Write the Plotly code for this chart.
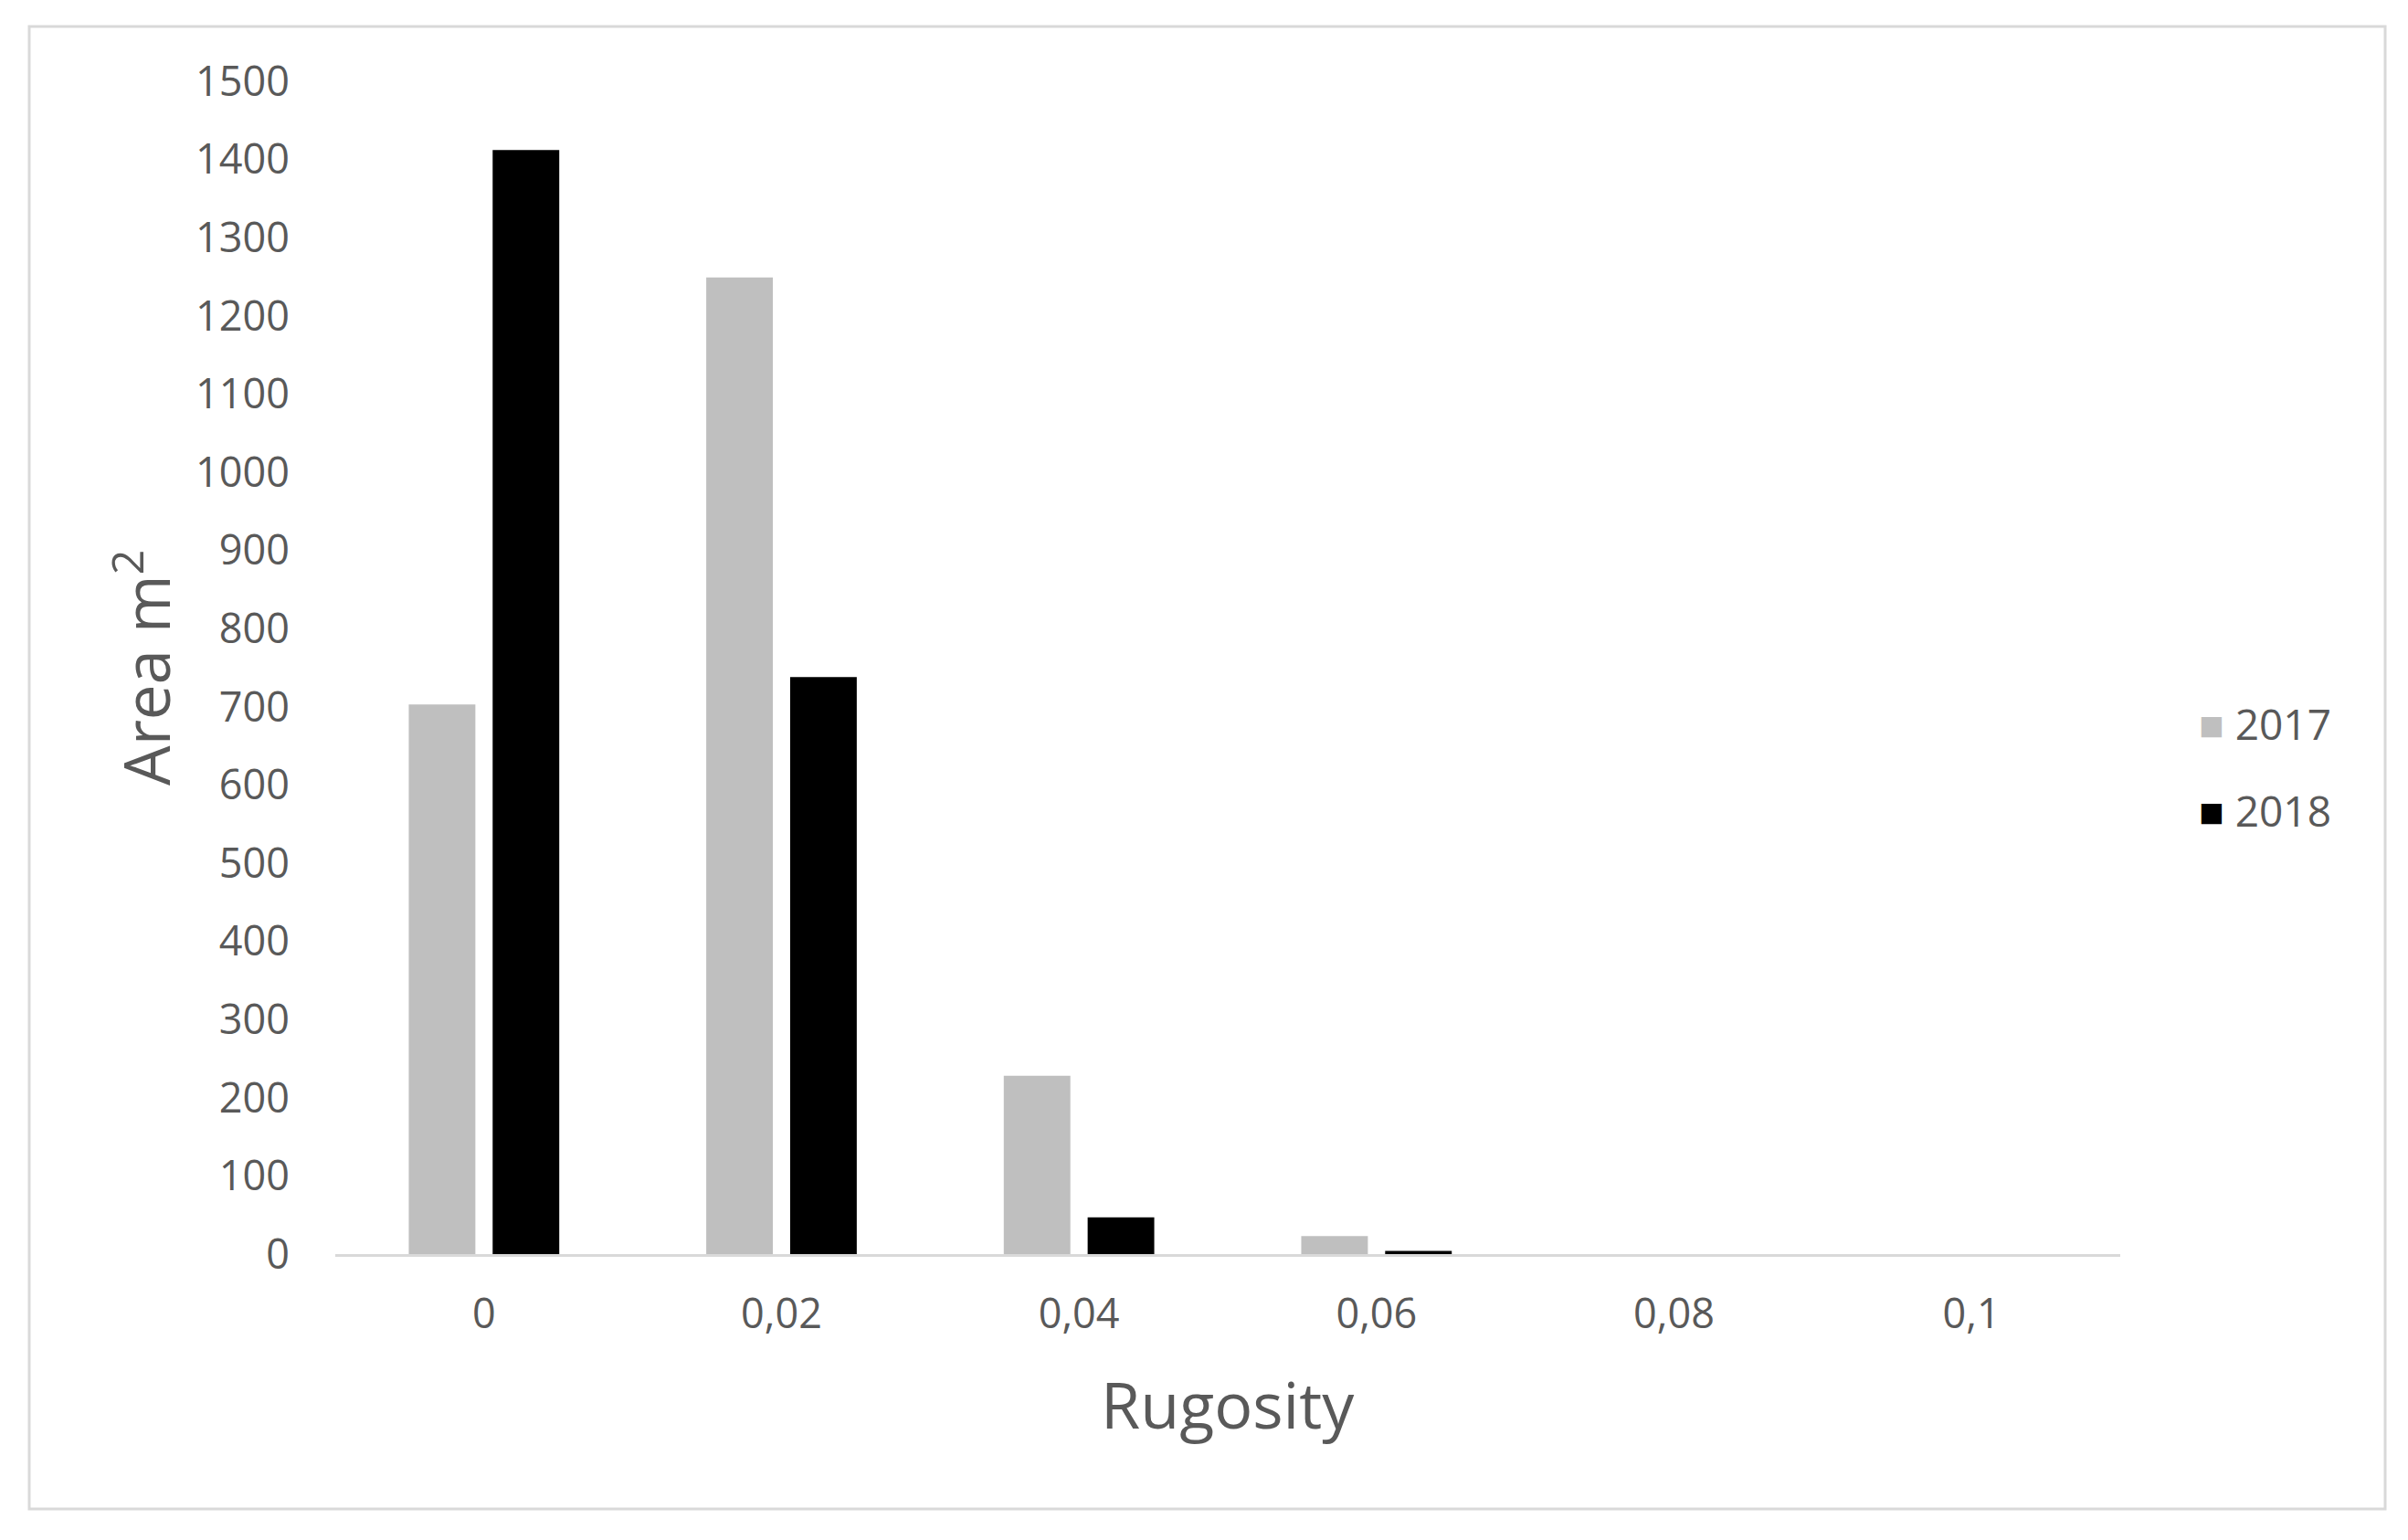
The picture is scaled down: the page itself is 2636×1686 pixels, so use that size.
import plotly.graph_objects as go

# rugosity classes (x categories) and area per class
rugosity_labels = ["0", "0,02", "0,04", "0,06", "0,08", "0,1"]
area_2017 = [703, 1249, 228, 23, 0, 0]
area_2018 = [1412, 738, 47, 4, 0, 0]

years = ["2017", "2018"]
colors = ["#bfbfbf", "#000000"]
series = [area_2017, area_2018]

# page puts the plot 8px in from the corner, so work in screen px minus that
OFF = 8
W, H = 2636 - OFF, 1686 - OFF
ml, mt = 367 - OFF, 89 - OFF
mr = W - (2321 - OFF)
mb = H - (1373 - OFF)
pw, ph = W - ml - mr, H - mt - mb


def px(x):  # screen x -> paper x
    return (x - OFF - ml) / pw


def py(y):  # screen y -> paper y
    return (H - mb - (y - OFF)) / ph


text_col = "#595959"
font_fam = "Open Sans, Noto Sans, sans-serif"

fig = go.Figure()
for name, vals, col in zip(years, series, colors):
    fig.add_trace(go.Bar(x=rugosity_labels, y=vals, name=name,
                         marker=dict(color=col, line=dict(width=0)),
                         showlegend=False))

fig.update_layout(
    width=W, height=H,
    margin=dict(l=ml, r=mr, t=mt, b=mb),
    paper_bgcolor="white", plot_bgcolor="white",
    barmode="group", bargap=0.436, bargroupgap=0.206,
    font=dict(family=font_fam, color=text_col),
)

fig.update_xaxes(
    type="category", showgrid=False, zeroline=False,
    showline=True, linecolor="#d9d9d9", linewidth=3,
    ticks="", tickfont=dict(size=45, color=text_col),
    ticklabelstandoff=24,
)
fig.update_yaxes(
    range=[0, 1500], dtick=100, tick0=0, showgrid=False, zeroline=False,
    showline=False, ticks="", tickfont=dict(size=45, color=text_col),
    ticklabelstandoff=49,
)

# axis titles
fig.add_annotation(text="Rugosity", xref="paper", yref="paper",
                   x=0.5, y=py(1537), showarrow=False,
                   font=dict(size=70, color=text_col),
                   xanchor="center", yanchor="middle")
fig.add_annotation(text="Area m<sup>2</sup>", xref="paper", yref="paper",
                   x=px(155), y=0.5, textangle=-90, showarrow=False,
                   font=dict(size=69, color=text_col),
                   xanchor="center", yanchor="middle")

# legend, drawn as text entries with coloured squares
for name, col, ly in zip(years, colors, [792, 887]):
    fig.add_annotation(
        text=f"<span style='color:{col}'>■</span> {name}",
        xref="paper", yref="paper", x=px(2405), y=py(ly),
        xanchor="left", yanchor="middle", showarrow=False,
        font=dict(size=46, color=text_col))

# light frame around the whole chart
fig.add_shape(type="rect", xref="paper", yref="paper",
              x0=px(32), x1=px(2611), y0=py(1652), y1=py(29),
              line=dict(color="#d9d9d9", width=3), layer="below")

fig.write_html("out.html")
